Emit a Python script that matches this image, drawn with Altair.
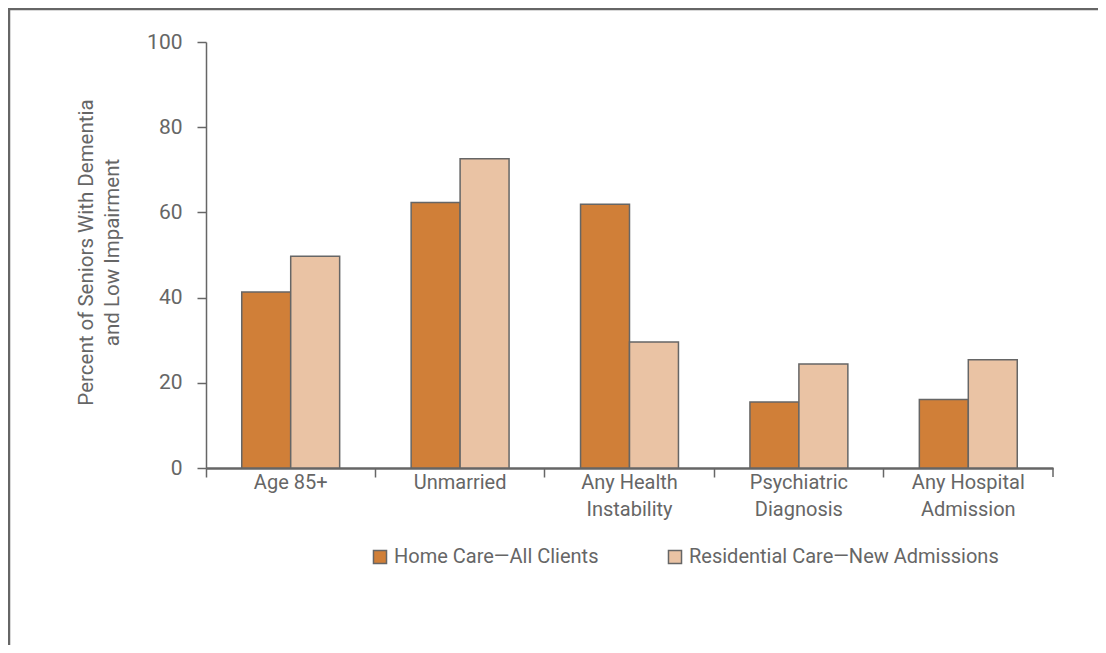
import altair as alt
import pandas as pd

categories = ["Age 85+", "Unmarried", "Any Health|Instability", "Psychiatric|Diagnosis", "Any Hospital|Admission"]
series = ["Home Care\u2014All Clients", "Residential Care\u2014New Admissions"]
home_care = [41.3, 62.3, 61.9, 15.5, 16.1]
residential = [49.7, 72.6, 29.6, 24.4, 25.4]
colors = ["#D07F38", "#EAC3A4"]

rows = []
for i, c in enumerate(categories):
    rows.append({"category": c, "series": series[0], "value": home_care[i]})
    rows.append({"category": c, "series": series[1], "value": residential[i]})
df = pd.DataFrame(rows)

W, H = 847, 426
FONT = "Roboto"
GRAY = "#666666"
FS = 20

bars = alt.Chart(df).mark_bar(stroke=GRAY, strokeWidth=1.5).encode(
    x=alt.X("category:N", sort=categories, title=None,
            scale=alt.Scale(paddingInner=0, paddingOuter=0),
            axis=alt.Axis(bandPosition=0, labelAngle=0,
                          labelExpr="split(datum.label, '|')",
                          labelFontSize=FS, labelColor=GRAY, labelFont=FONT,
                          labelLineHeight=27, labelPadding=-5,
                          tickSize=9, tickWidth=1.5, tickColor=GRAY,
                          domainColor=GRAY, domainWidth=2.5, labelBaseline="top")),
    xOffset=alt.XOffset("series:N", sort=series,
                        scale=alt.Scale(paddingInner=0, paddingOuter=0.73)),
    y=alt.Y("value:Q",
            scale=alt.Scale(domain=[0, 100], nice=False),
            axis=alt.Axis(values=[0, 20, 40, 60, 80, 100], grid=False,
                          title=["Percent of Seniors With Dementia", "and Low Impairment"],
                          titleFontSize=FS + 0.5, titleFont=FONT, titleColor=GRAY,
                          titleFontWeight="normal", titleLineHeight=26,
                          titleX=-120, titleY=H / 2 - 3, titleAngle=-90,
                          titleAlign="center", titleBaseline="middle",
                          labelFontSize=FS + 1, labelColor=GRAY, labelFont=FONT,
                          labelPadding=15, tickSize=9, tickWidth=1.5, tickColor=GRAY,
                          domainColor=GRAY, domainWidth=1.5)),
    color=alt.Color("series:N", sort=series,
                    scale=alt.Scale(domain=series, range=colors),
                    legend=alt.Legend(title=None, orient="none", legendX=164, legendY=505,
                                      direction="horizontal", symbolType="square",
                                      symbolSize=170, symbolStrokeColor=GRAY,
                                      symbolStrokeWidth=1.5, labelFontSize=FS,
                                      labelFont=FONT, labelColor=GRAY, labelOffset=4,
                                      labelLimit=500, columnPadding=66)),
)

end_tick = alt.Chart(pd.DataFrame({"a": [0]})).mark_rule(color=GRAY, strokeWidth=1.5).encode(
    x=alt.value(W), y=alt.value(H), y2=alt.value(H + 9))

frame = alt.Chart(pd.DataFrame({"a": [0]})).mark_rect(
    fill="transparent", stroke=GRAY, strokeWidth=2.5).encode(
    x=alt.value(-197), x2=alt.value(W + 400), y=alt.value(-33), y2=alt.value(H + 400))

chart = alt.layer(bars, end_tick, frame).properties(
    width=W, height=H,
    padding={"left": 198, "top": 34, "right": 45, "bottom": 177},
    autosize=alt.AutoSizeParams(type="none"),
).configure(font=FONT).configure_view(stroke="transparent", strokeWidth=0)

chart.save("out.html", embed_options={"renderer": "svg", "actions": False})
